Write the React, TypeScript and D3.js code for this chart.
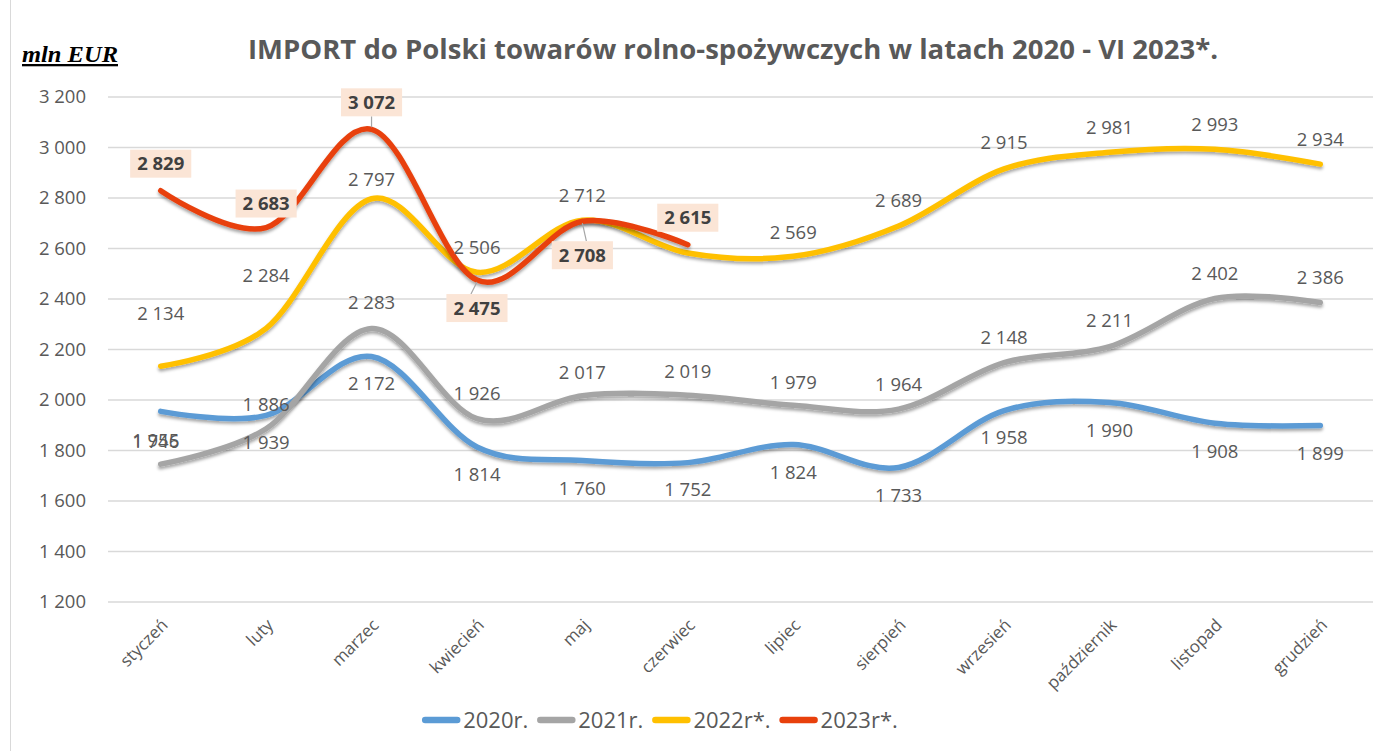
import React from "react";
import * as d3 from "d3";

const categories = ["styczeń","luty","marzec","kwiecień","maj","czerwiec","lipiec","sierpień","wrzesień","październik","listopad","grudzień"];
const v2020 = [1955,1939,2172,1814,1760,1752,1824,1733,1958,1990,1908,1899];
const v2021 = [1746,1886,2283,1926,2017,2019,1979,1964,2148,2211,2402,2386];
const v2022 = [2134,2284,2797,2506,2712,2582,2569,2689,2915,2981,2993,2934];
const v2023 = [2829,2683,3072,2475,2708,2615];
const yTicks = [1200,1400,1600,1800,2000,2200,2400,2600,2800,3000,3200];
const seriesNames = ["2020r.","2021r.","2022r*.","2023r*."];

// label layout (vertical offsets in px from the point; null = hidden)
const off2020 = [29,27,27,28,28,27,28,28,27,28,28,28];
const off2021 = [-23,-24,-26,-25,-23,-24,-23,-25,-25,-26,-25,-25];
const off2022 = [-53,-53,-19,-25,-25,null,-24,-26,-26,-25,-25,-25];
const off2023 = [-27,-24,-27,28,34,-27];
const leader2023 = [false,false,true,true,true,false];

const COLORS = ["#5B9BD5","#A5A5A5","#FFC000","#E8400C"];
const FONT = "'Open Sans', 'Liberation Sans', sans-serif";
const TXT = "#595959";

const W = 1396, H = 751;

const loc = d3.formatLocale({ decimal: ",", thousands: " ", grouping: [3], currency: ["", ""] });
const fmt = loc.format(",d");

function measure(text: string, font: string) {
  const c = document.createElement("canvas").getContext("2d");
  if (!c) return text.length * 12;
  c.font = font;
  return c.measureText(text).width;
}

export default function App() {
  const x = d3.scaleBand<string>().domain(categories).range([108, 1373]).padding(0);
  const cx = (i: number) => (x(categories[i]) as number) + x.bandwidth() / 2;
  const y = d3.scaleLinear().domain([1200, 3200]).range([602, 97]);

  const line = d3.line<number>()
    .x((_, i) => cx(i))
    .y((d) => y(d))
    .curve(d3.curveCatmullRom.alpha(0));

  const allSeries = [v2020, v2021, v2022, v2023];

  const legendFontSize = 22;
  const legendFont = `${legendFontSize}px 'Open Sans'`;
  const swatch = 38, gapSw = 3, gapItem = 9;
  const widths = seriesNames.map((n) => swatch + gapSw + measure(n, legendFont));
  const totalW = widths.reduce((a, b) => a + b, 0) + gapItem * (seriesNames.length - 1);
  let lx = 660 - totalW / 2;
  const legendItems = seriesNames.map((n, i) => {
    const item = { name: n, x: lx, color: COLORS[i] };
    lx += widths[i] + gapItem;
    return item;
  });

  const labelFs = 18.5;
  const boxFont = `bold ${labelFs}px 'Open Sans'`;

  return (
    <svg width={W} height={H} style={{ position: "absolute", left: 0, top: 0, display: "block", background: "#fff" }}>
      <defs>
        <filter id="sh" x="-5%" y="-20%" width="110%" height="140%">
          <feDropShadow dx="0" dy="2.5" stdDeviation="1.6" floodColor="#000" floodOpacity="0.35" />
        </filter>
      </defs>
      <line x1={10.5} x2={10.5} y1={0} y2={H} stroke="#d9d9d9" />

      {/* title */}
      <text x={733} y={59} textAnchor="middle" fontFamily={FONT} fontWeight="bold" fontSize={26} fill={TXT}
        textLength={970} lengthAdjust="spacingAndGlyphs">
        IMPORT do Polski towarów rolno-spożywczych w latach 2020 - VI 2023*.
      </text>
      <text x={22} y={62} fontFamily="'Liberation Serif', 'DejaVu Serif', serif" fontWeight="bold" fontStyle="italic"
        fontSize={23} fill="#000" textDecoration="underline" textLength={96} lengthAdjust="spacingAndGlyphs">
        mln EUR
      </text>

      {/* grid + y ticks */}
      {yTicks.map((t) => (
        <g key={t}>
          <line x1={108} x2={1373} y1={y(t)} y2={y(t)} stroke="#d9d9d9" strokeWidth={1.3} />
          <text x={86} y={y(t)} dy="0.35em" textAnchor="end" fontFamily={FONT} fontSize={labelFs} fill={TXT}>
            {fmt(t)}
          </text>
        </g>
      ))}

      {/* x labels */}
      {categories.map((c, i) => (
        <text key={c} transform={`translate(${cx(i) + 4},${622}) rotate(-45)`} textAnchor="end" dy="0.35em"
          fontFamily={FONT} fontSize={17} fill={TXT}>
          {c}
        </text>
      ))}

      {/* lines */}
      {allSeries.map((s, k) => (
        <path key={k} d={line(s) as string} fill="none" stroke={COLORS[k]} strokeWidth={5.5}
          strokeLinecap="round" strokeLinejoin="round" filter="url(#sh)" />
      ))}

      {/* labels 2020 */}
      {v2020.map((v, i) => (
        <text key={"a" + i} x={cx(i) - (i === 0 ? 5 : 0)} y={y(v) + off2020[i]} dy="0.35em" textAnchor="middle"
          fontFamily={FONT} fontSize={labelFs} fill={TXT}>{fmt(v)}</text>
      ))}
      {v2021.map((v, i) => (
        <text key={"b" + i} x={cx(i) - (i === 0 ? 5 : 0)} y={y(v) + off2021[i]} dy="0.35em" textAnchor="middle"
          fontFamily={FONT} fontSize={labelFs} fill={TXT}>{fmt(v)}</text>
      ))}
      {v2022.map((v, i) => off2022[i] === null ? null : (
        <text key={"c" + i} x={cx(i)} y={y(v) + (off2022[i] as number)} dy="0.35em" textAnchor="middle"
          fontFamily={FONT} fontSize={labelFs} fill={TXT}>{fmt(v)}</text>
      ))}
      {v2023.map((v, i) => {
        const tx = cx(i);
        const ty = y(v) + off2023[i];
        const tw = measure(fmt(v), boxFont) + 14;
        const bh = 28;
        const below = off2023[i] > 0;
        return (
          <g key={"d" + i}>
            {leader2023[i] && (
              <line x1={tx} x2={tx - (i === 3 ? 6 : i === 4 ? -4 : 0)} y1={y(v) + (below ? 2 : -2)}
                y2={below ? ty - bh / 2 : ty + bh / 2} stroke="#A6A6A6" strokeWidth={1.2} />
            )}
            <rect x={tx - tw / 2} y={ty - bh / 2} width={tw} height={bh} fill="#FBE5D6" />
            <text x={tx} y={ty} dy="0.36em" textAnchor="middle" fontFamily={FONT} fontWeight="bold"
              fontSize={labelFs} fill="#404040">{fmt(v)}</text>
          </g>
        );
      })}

      {/* legend */}
      {legendItems.map((it) => (
        <g key={it.name}>
          <line x1={it.x + 3} x2={it.x + swatch - 3} y1={720} y2={720} stroke={it.color} strokeWidth={6.5}
            strokeLinecap="round" />
          <text x={it.x + swatch + gapSw} y={720} dy="0.36em" fontFamily={FONT} fontSize={legendFontSize} fill={TXT}>
            {it.name}
          </text>
        </g>
      ))}
    </svg>
  );
}
